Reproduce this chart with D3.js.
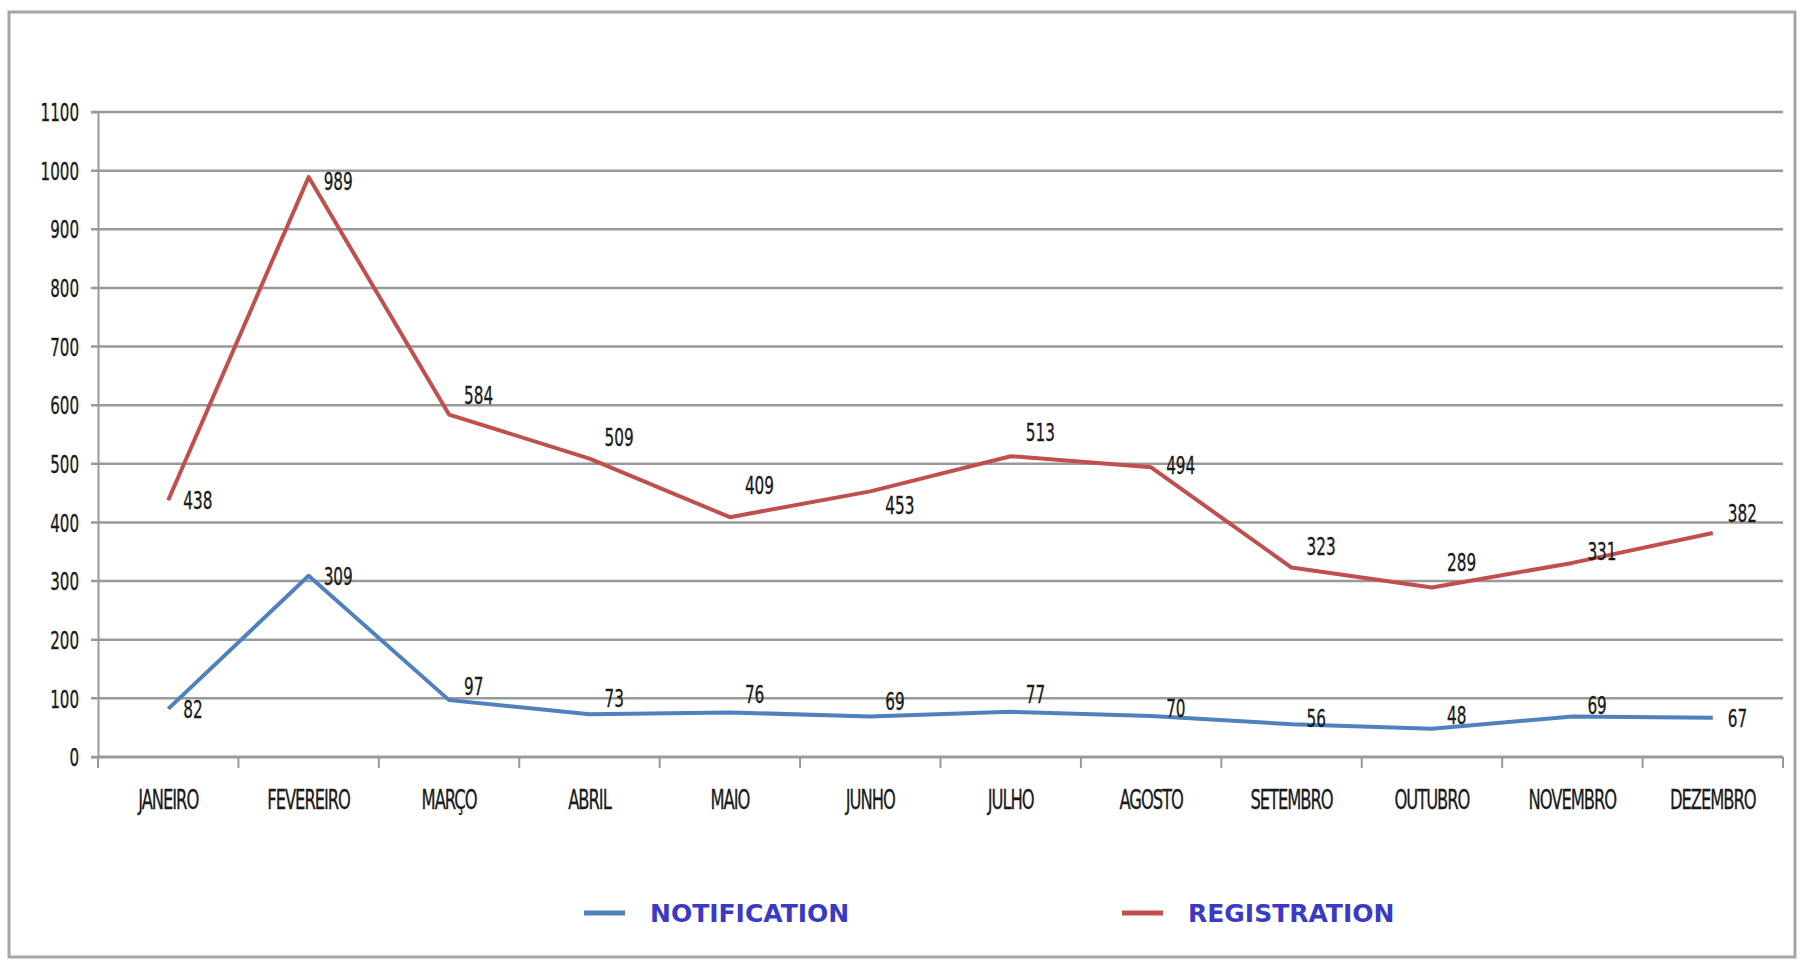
<!DOCTYPE html>
<html>
<head>
    <meta charset="utf-8">
    <title>Notification / Registration</title>
    <script src="https://cdn.jsdelivr.net/npm/d3@7"></script>
    <style>
        body { margin: 0; background: #fff; }
        text { font-family: "DejaVu Sans Condensed", "Liberation Sans Narrow", "Liberation Sans", sans-serif; }
    </style>
</head>
<body>
    <div id="chart"></div>
    <script>
        // data
        var months = ["JANEIRO", "FEVEREIRO", "MARÇO", "ABRIL", "MAIO", "JUNHO",
                      "JULHO", "AGOSTO", "SETEMBRO", "OUTUBRO", "NOVEMBRO", "DEZEMBRO"];
        var notification = [82, 309, 97, 73, 76, 69, 77, 70, 56, 48, 69, 67];
        var registration = [438, 989, 584, 509, 409, 453, 513, 494, 323, 289, 331, 382];
        var yTicks = [0, 100, 200, 300, 400, 500, 600, 700, 800, 900, 1000, 1100];

        // label nudges (px) so the numbers sit like in the original
        var notifLabelDy = [0, 0, -14, -16, -18, -16, -18, -8, -6, -14, -12, 0];
        var regLabelDy = [0, 4, -20, -22, -32, 14, -24, -2, -22, -26, -12, -20];

        var width = 1803,
            height = 966;

        // the original uses a tall narrow font: squeeze text horizontally
        function squeeze(sel, sx){
            sel.each(function(){
                var t = d3.select(this);
                var tx = +t.attr("x") || 0, ty = +t.attr("y") || 0;
                t.attr("x", 0).attr("y", 0)
                 .attr("transform", "translate(" + tx + "," + ty + ") scale(" + sx + ",1)");
            });
        }

        var svg = d3.select("#chart").append("svg")
            .attr("width", width)
            .attr("height", height);

        // frame
        svg.append("rect")
            .attr("x", 9).attr("y", 12)
            .attr("width", 1786).attr("height", 945)
            .attr("fill", "#fff")
            .attr("stroke", "#a6a6a6")
            .attr("stroke-width", 3);

        var plotLeft = 98, plotRight = 1783, plotTop = 112, plotBottom = 757;

        var x = d3.scaleBand().domain(months).range([plotLeft, plotRight]);
        var y = d3.scaleLinear().domain([0, 1100]).range([plotBottom, plotTop]);

        // gridlines
        svg.append("g").selectAll("line").data(yTicks).enter()
            .append("line")
            .attr("x1", plotLeft - 7).attr("x2", plotRight)
            .attr("y1", function(d){ return y(d); })
            .attr("y2", function(d){ return y(d); })
            .attr("stroke", "#999")
            .attr("stroke-width", 2.5);

        // y axis
        var yAxis = svg.append("g")
            .attr("transform", "translate(" + plotLeft + ",0)")
            .call(d3.axisLeft(y).tickValues(yTicks).tickFormat(d3.format("d")).tickSize(7).tickPadding(12));
        yAxis.select(".domain").attr("stroke", "#999").attr("stroke-width", 2);
        yAxis.selectAll(".tick line").remove();
        yAxis.selectAll("text")
            .attr("font-size", 24)
            .attr("fill", "#1a1a1a")
            .attr("stroke", "#1a1a1a").attr("stroke-width", 0.3)
            .attr("dy", "0.36em")
            .call(squeeze, 0.7);

        // x axis with ticks between months
        var xAxis = svg.append("g")
            .attr("transform", "translate(0," + plotBottom + ")");
        xAxis.append("line")
            .attr("x1", plotLeft).attr("x2", plotRight)
            .attr("stroke", "#999").attr("stroke-width", 2.5);
        var bounds = months.map(function(m){ return x(m); }).concat([plotRight]);
        xAxis.selectAll(".sep").data(bounds).enter()
            .append("line")
            .attr("class", "sep")
            .attr("x1", function(d){ return d; })
            .attr("x2", function(d){ return d; })
            .attr("y1", 0).attr("y2", 11)
            .attr("stroke", "#999").attr("stroke-width", 2);
        xAxis.selectAll(".lbl").data(months).enter()
            .append("text")
            .attr("class", "lbl")
            .attr("x", function(d){ return x(d) + x.bandwidth() / 2; })
            .attr("y", 52)
            .attr("text-anchor", "middle")
            .attr("font-size", 26)
            .attr("fill", "#1a1a1a")
            .attr("stroke", "#1a1a1a").attr("stroke-width", 0.3)
            .attr("letter-spacing", -1.5)
            .text(function(d){ return d; })
            .call(squeeze, 0.7);

        var cx = function(d, i){ return x(months[i]) + x.bandwidth() / 2; };

        var series = [
            { name: "NOTIFICATION", values: notification, color: "#4f81bd", dy: notifLabelDy },
            { name: "REGISTRATION", values: registration, color: "#c0504d", dy: regLabelDy }
        ];

        var line = d3.line()
            .x(cx)
            .y(function(d){ return y(d); });

        series.forEach(function(s){
            svg.append("path")
                .datum(s.values)
                .attr("fill", "none")
                .attr("stroke", s.color)
                .attr("stroke-width", 4)
                .attr("stroke-linejoin", "round")
                .attr("d", line);

            svg.append("g").selectAll("text").data(s.values).enter()
                .append("text")
                .attr("x", function(d, i){ return cx(d, i) + 15; })
                .attr("y", function(d, i){ return y(d) + s.dy[i]; })
                .attr("dy", "0.36em")
                .attr("font-size", 25)
                .attr("fill", "#1a1a1a")
                .attr("stroke", "#1a1a1a").attr("stroke-width", 0.3)
                .text(function(d){ return d; })
                .call(squeeze, 0.68);
        });

        // legend
        var legend = svg.append("g").attr("transform", "translate(0,913)");
        var legendX = [584, 1122];
        series.forEach(function(s, i){
            legend.append("line")
                .attr("x1", legendX[i]).attr("x2", legendX[i] + 41)
                .attr("stroke", s.color)
                .attr("stroke-width", 5);
            legend.append("text")
                .attr("x", legendX[i] + 66)
                .attr("dy", "0.36em")
                .attr("font-size", 25)
                .attr("font-weight", "bold")
                .attr("fill", "#3a3ac4")
                .style("font-family", "Verdana, 'DejaVu Sans', sans-serif")
                .text(s.name);
        });
    </script>
</body>
</html>
